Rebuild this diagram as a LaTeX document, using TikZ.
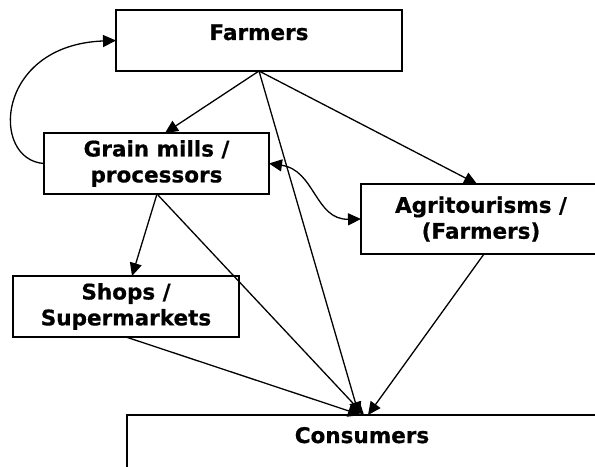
\documentclass[tikz,border=0pt]{standalone}
\usepackage{fontspec}
\setmainfont{DejaVu Sans}[BoldFeatures={FakeBold=0.6}]
\usetikzlibrary{arrows.meta}
\begin{document}
\begin{tikzpicture}[x=1bp,y=-1bp,
  box/.style={draw, line width=1.3bp, inner sep=0pt, outer sep=0pt, align=center,
    font=\fontsize{21.6}{26}\selectfont\bfseries},
  conn/.style={line width=1.3bp},
  arr/.style={conn, -{Triangle[length=13bp,width=12bp]}},
  darr/.style={conn, {Triangle[length=13bp,width=12bp]}-{Triangle[length=13bp,width=12bp]}}]
\useasboundingbox (0,0) rectangle (595,467);
\clip (0,0) rectangle (595,467);
\fill[white] (0,0) rectangle (595,467);
\node[box, anchor=north, minimum width=286bp, text height=30bp, text depth=31bp] (farm) at (259,10) {Farmers};
\node[box, minimum width=225bp, minimum height=61bp] (grain) at (156.5,163.5) {Grain mills /\\processors};
\node[box, minimum width=226bp, minimum height=61bp] (shops) at (126,306.5) {Shops /\\Supermarkets};
\node[box, minimum width=240bp, minimum height=70bp] (agri) at (481,219) {Agritourisms /\\(Farmers)};
\node[box, anchor=north west, minimum width=470bp, text height=28bp, text depth=60bp] (cons) at (127,415) {Consumers};
\coordinate (c1) at ([xshift=-3bp]cons.north);
\coordinate (c2) at ([xshift=2bp]cons.north);
\coordinate (c3) at ([xshift=-1bp]cons.north);
\coordinate (c4) at ([xshift=6bp]cons.north);
\draw[arr] (farm.south) -- ([xshift=8.5bp]grain.north);
\draw[arr] (farm.south) -- ([xshift=-4bp]agri.north);
\draw[arr] (farm.south) -- (c1);
\draw[arr] ([xshift=0.5bp]grain.south) -- ([xshift=6bp]shops.north);
\draw[arr] ([xshift=0.5bp]grain.south) -- (c2);
\draw[arr] (shops.south) -- (c3);
\draw[arr] ([xshift=3bp]agri.south) -- (c4);
\draw[arr] (grain.west) .. controls (-10,160) and (-5,45) .. (farm.west);
\draw[darr] (grain.east) .. controls (315,170) and (315,220) .. (agri.west);
\end{tikzpicture}
\end{document}
